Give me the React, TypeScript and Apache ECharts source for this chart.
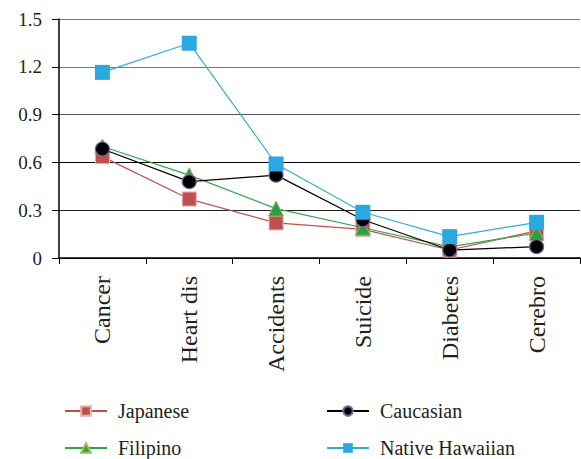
import React, { useEffect, useRef } from "react";
import * as echarts from "echarts";

const categories = ["Cancer", "Heart dis", "Accidents", "Suicide", "Diabetes", "Cerebro"];
const japanese = [0.636, 0.37, 0.22, 0.18, 0.05, 0.17];
const filipino = [0.70, 0.52, 0.31, 0.19, 0.07, 0.157];
const caucasian = [0.684, 0.479, 0.52, 0.24, 0.05, 0.071];
const nativeHawaiian = [1.165, 1.348, 0.59, 0.287, 0.134, 0.224];
const yTicks = { min: 0, max: 1.5, interval: 0.3 };

const FONT = "Liberation Serif";

export default function App() {
  const ref = useRef<HTMLDivElement>(null);
  useEffect(() => {
    if (!ref.current) return;
    const chart = echarts.init(ref.current, undefined, { renderer: "svg" });
    const legendBase = (name: string, left: number, top: number) => ({
      data: [name],
      left,
      top,
      orient: "horizontal",
      itemWidth: 42,
      itemHeight: 12,
      textStyle: { fontFamily: FONT, fontSize: 20, color: "#231F20", padding: [0, 0, 0, 6] },
    });
    chart.setOption({
      animation: false,
      backgroundColor: "#fff",
      textStyle: { fontFamily: FONT },
      grid: { left: 59, right: 1, top: 19, bottom: 201, containLabel: false },
      legend: [
        legendBase("Japanese", 59, 396),
        legendBase("Caucasian", 321, 396),
        legendBase("Filipino", 59, 433),
        legendBase("Native Hawaiian", 321, 433),
      ],
      xAxis: {
        type: "category",
        data: categories,
        boundaryGap: true,
        axisLine: { lineStyle: { color: "#000", width: 1.5 } },
        axisTick: { show: true, alignWithLabel: false, length: 6, lineStyle: { color: "#000" } },
        axisLabel: { rotate: 90, margin: 18, fontFamily: FONT, fontSize: 24, color: "#231F20" },
        splitLine: { show: false },
      },
      yAxis: {
        type: "value",
        min: yTicks.min,
        max: yTicks.max,
        interval: yTicks.interval,
        axisLine: { show: true, lineStyle: { color: "#000", width: 1.5 } },
        axisTick: { show: true, length: 7, lineStyle: { color: "#000" } },
        axisLabel: {
          margin: 17,
          fontFamily: FONT,
          fontSize: 19,
          color: "#231F20",
          formatter: (v: number) => (v === 0 ? "0" : v.toFixed(1)),
        },
        splitLine: {
          show: true,
          lineStyle: { color: ["#000", "#222", "#000", "#555", "#777", "#777"], width: 1.2 },
        },
      },
      series: [
        {
          name: "Japanese",
          type: "line",
          data: japanese,
          symbol: "rect",
          symbolSize: 14,
          lineStyle: { color: "#C0504D", width: 1.2 },
          itemStyle: { color: "#C0504D", borderColor: "#E6B0AE", borderWidth: 1 },
          z: 2,
        },
        {
          name: "Filipino",
          type: "line",
          data: filipino,
          symbol: "triangle",
          symbolSize: 15,
          lineStyle: { color: "#2FA64A", width: 1.2 },
          itemStyle: { color: "#2E9E46", borderColor: "#9BBB59", borderWidth: 1 },
          z: 3,
        },
        {
          name: "Caucasian",
          type: "line",
          data: caucasian,
          symbol: "circle",
          symbolSize: 14,
          lineStyle: { color: "#000", width: 1.2 },
          itemStyle: { color: "#000", borderColor: "#8064A2", borderWidth: 1.2 },
          z: 4,
        },
        {
          name: "Native Hawaiian",
          type: "line",
          data: nativeHawaiian,
          symbol: "rect",
          symbolSize: 15,
          lineStyle: { color: "#3AAAD0", width: 1.2 },
          itemStyle: { color: "#29A9E0", borderColor: "#29A9E0", borderWidth: 0 },
          z: 5,
        },
      ],
    });
    return () => chart.dispose();
  }, []);
  return (
    <div
      ref={ref}
      style={{ position: "fixed", left: 0, top: 0, width: 581, height: 459, background: "#fff" }}
    />
  );
}
